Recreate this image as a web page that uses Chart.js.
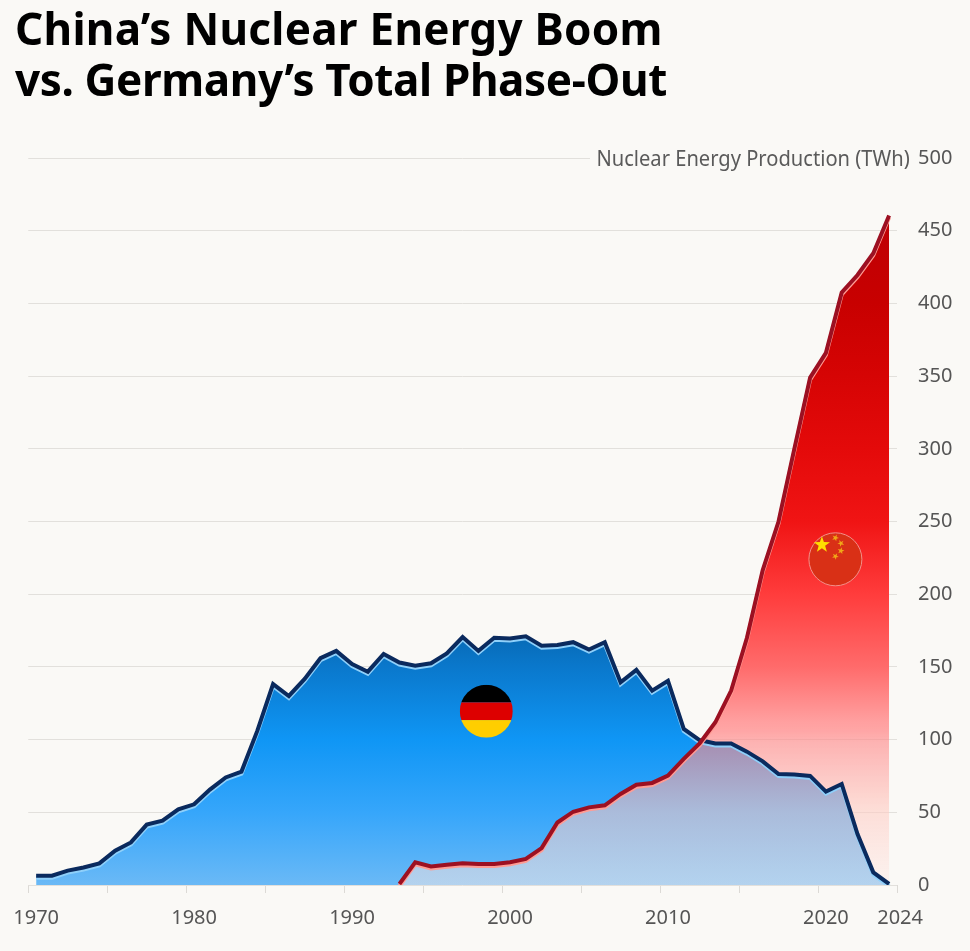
<!DOCTYPE html>
<html>
<head>
<meta charset="utf-8">
<script src="https://cdn.jsdelivr.net/npm/chart.js@4"></script>
<style>
  html, body { margin: 0; padding: 0; background: #faf9f6; }
  #wrap { position: relative; width: 970px; height: 951px; overflow: hidden; }
  canvas { position: absolute; left: 0; top: 0; }
  h1 { position: absolute; left: 15px; top: 3px; margin: 0; font: 700 44px/51px "Noto Sans", sans-serif; color: #000; white-space: nowrap; }
  h1 span { display: block; }
  #unit { position: absolute; left: 590px; top: 144px; padding: 0 0 0 7px; background: #faf9f6; font: 400 22px/26px "Noto Sans", sans-serif; color: #5a5a5a; white-space: nowrap; transform: scaleX(0.915); transform-origin: left center; }
</style>
</head>
<body>
<div id="wrap">
  <canvas id="chart" width="970" height="951"></canvas>
  <h1><span style="letter-spacing:0.27px">China’s Nuclear Energy Boom</span><span style="letter-spacing:-0.36px">vs. Germany’s Total Phase-Out</span></h1>
  <div id="unit">Nuclear Energy Production (TWh)</div>
</div>
<script>
const years = [1970,1971,1972,1973,1974,1975,1976,1977,1978,1979,1980,1981,1982,1983,1984,1985,1986,1987,1988,1989,1990,1991,1992,1993,1994,1995,1996,1997,1998,1999,2000,2001,2002,2003,2004,2005,2006,2007,2008,2009,2010,2011,2012,2013,2014,2015,2016,2017,2018,2019,2020,2021,2022,2023,2024];
const labelYears = [1970, 1980, 1990, 2000, 2010, 2020, 2024];
const germany = [6.4,6.4,9.9,12,14.9,23.6,29.3,41.5,44.2,52,55.5,65.6,74,78,106,138.2,130,141.7,156,161,152,146.7,158.9,153,150.8,152.5,159.3,170.5,161,170,169.6,171,164.6,165,167,162,167,139.4,148,133.7,140.5,107.3,99.7,97.4,97.4,91.7,85,76.3,76,75,64.2,69.5,35,8.7,0.7];
const china = [null,null,null,null,null,null,null,null,null,null,null,null,null,null,null,null,null,null,null,null,null,null,null,0.7,15.6,12.8,14,14.9,14.4,14.4,15.6,17.9,25.4,43,50.4,53.4,54.8,62.6,69,70.2,75.2,86.7,97.4,111.9,133.7,170,216.6,250,300,349,366,407.5,419.5,434.5,460.5];

// flag positions in data units: [year index, TWh]
const germanyFlagAt = [28.5, 119.5];
const chinaFlagAt = [50.6, 224];

// gradient stops [TWh, colour]. the low part of the red is see-through so the overlap goes mauve
const germanyStops = [[0,"#6ab9f6"],[50,"#36a6fb"],[100,"#0f96f5"],[150,"#0a78cc"],[175,"#0768b2"]];
const chinaStops = [[0,"rgba(252,236,231,0.5)"],[50,"rgba(255,203,195,0.58)"],[100,"rgba(255,134,135,0.63)"],[112,"rgb(255,160,160)"],[150,"#ff6b6b"],[200,"#ff3c3c"],[250,"#f01414"],[300,"#e40a0a"],[350,"#d60404"],[400,"#c80000"],[460,"#be0005"]];

function valueGradient(stops) {
  return (context) => {
    const { chart } = context;
    if (!chart.chartArea) return "transparent";
    const y = chart.scales.y;
    const g = chart.ctx.createLinearGradient(0, y.getPixelForValue(0), 0, y.getPixelForValue(500));
    stops.forEach((s) => g.addColorStop(s[0] / 500, s[1]));
    return g;
  };
}

// pale edge just under each line, fills are all done before this is set
const lineEdge = {
  id: "lineEdge",
  beforeDatasetDraw(chart, args) {
    const ctx = chart.ctx;
    ctx.save();
    ctx.shadowColor = args.index === 0 ? "#ff9c94" : "#8fd0fa";
    ctx.shadowBlur = 0;
    ctx.shadowOffsetX = 0;
    ctx.shadowOffsetY = 2;
  },
  afterDatasetDraw(chart) {
    chart.ctx.restore();
  },
};

function star(ctx, x, y, r, rot) {
  ctx.beginPath();
  for (let i = 0; i < 10; i++) {
    const rad = i % 2 ? r * 0.4 : r;
    const a = rot - Math.PI / 2 + (i * Math.PI) / 5;
    ctx.lineTo(x + rad * Math.cos(a), y + rad * Math.sin(a));
  }
  ctx.closePath();
  ctx.fill();
}

const flags = {
  id: "flags",
  beforeDraw(chart) {
    // 2024 label sits a bit right of its point
    chart.scales.x.getLabelItems().forEach((item) => {
      if (String(item.label) === "2024" && !item.moved) {
        item.options.translation[0] += 11;
        item.moved = true;
      }
    });
  },
  afterDatasetsDraw(chart) {
    const ctx = chart.ctx;
    const { x, y } = chart.scales;
    const r = 26.5;

    // germany
    let cx = x.getPixelForValue(germanyFlagAt[0]);
    let cy = y.getPixelForValue(germanyFlagAt[1]);
    ctx.save();
    ctx.beginPath();
    ctx.arc(cx, cy, r, 0, Math.PI * 2);
    ctx.clip();
    ctx.fillStyle = "#000";
    ctx.fillRect(cx - r, cy - r, r * 2, (r * 2) / 3);
    ctx.fillStyle = "#dd0000";
    ctx.fillRect(cx - r, cy - r / 3, r * 2, (r * 2) / 3);
    ctx.fillStyle = "#ffce00";
    ctx.fillRect(cx - r, cy + r / 3, r * 2, (r * 2) / 3);
    ctx.restore();

    // china
    cx = x.getPixelForValue(chinaFlagAt[0]);
    cy = y.getPixelForValue(chinaFlagAt[1]);
    ctx.save();
    ctx.beginPath();
    ctx.arc(cx, cy, r, 0, Math.PI * 2);
    ctx.fillStyle = "#d93016";
    ctx.fill();
    ctx.strokeStyle = "#f2908a";
    ctx.lineWidth = 1;
    ctx.stroke();
    ctx.fillStyle = "#ffde00";
    star(ctx, cx - 13.5, cy - 14.5, 8.5, 0);
    ctx.fillStyle = "#f0a818";
    star(ctx, cx, cy - 21.5, 3.6, 0.4);
    star(ctx, cx + 5.5, cy - 16, 3.6, 0.8);
    star(ctx, cx + 5.5, cy - 8.5, 3.6, 0.2);
    star(ctx, cx, cy - 3, 3.6, 0.5);
    ctx.restore();
  },
};

new Chart(document.getElementById("chart"), {
  type: "line",
  data: {
    labels: years,
    datasets: [
      {
        label: "China",
        data: china,
        order: 1,
        borderColor: "#9c1022",
        borderWidth: 4,
        backgroundColor: valueGradient(chinaStops),
        fill: "origin",
        pointRadius: 0,
        tension: 0,
      },
      {
        label: "Germany",
        data: germany,
        order: 2,
        borderColor: "#0a2a5e",
        borderWidth: 4,
        backgroundColor: valueGradient(germanyStops),
        fill: "origin",
        pointRadius: 0,
        tension: 0,
      },
    ],
  },
  options: {
    responsive: false,
    animation: false,
    devicePixelRatio: 1,
    layout: { padding: { left: 28, top: 158 } },
    plugins: {
      legend: { display: false },
      tooltip: { enabled: false },
      filler: { drawTime: "beforeDatasetsDraw" },
    },
    scales: {
      x: {
        offset: true,
        border: { display: false },
        grid: {
          offset: true,
          drawOnChartArea: false,
          tickLength: 8,
          tickColor: (c) => (c.index === undefined || c.index % 5 === 0 ? "#dcdad6" : "transparent"),
        },
        ticks: {
          autoSkip: false,
          maxRotation: 0,
          padding: 13,
          color: "#555",
          font: { family: "Noto Sans", size: 20 },
          callback(value) {
            const year = this.getLabelForValue(value);
            return labelYears.includes(Number(year)) ? year : "";
          },
        },
        afterFit(scale) { scale.height = 66; },
      },
      y: {
        position: "right",
        min: 0,
        max: 500,
        border: { display: false },
        grid: { color: "#e2e0dc", drawTicks: false },
        ticks: {
          stepSize: 50,
          padding: 21,
          color: "#555",
          font: { family: "Noto Sans", size: 20 },
        },
        afterFit(scale) { scale.width = 73; },
      },
    },
  },
  plugins: [lineEdge, flags],
});
</script>
</body>
</html>
